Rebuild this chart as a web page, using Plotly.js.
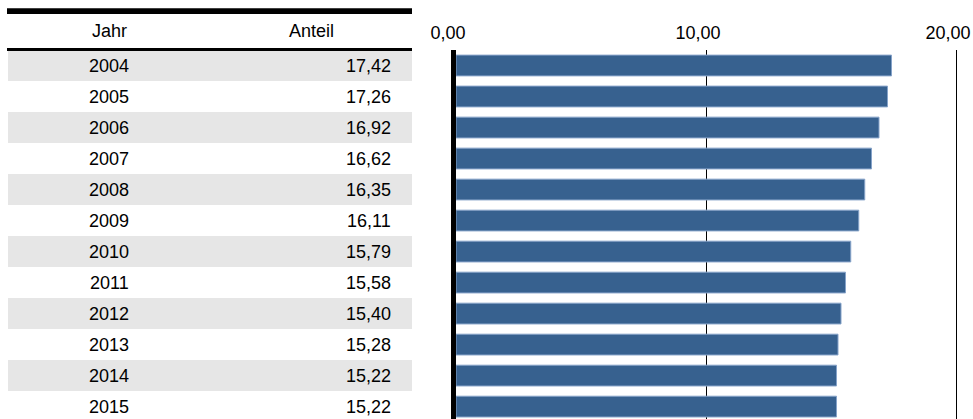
<!DOCTYPE html>
<html>
<head>
<meta charset="utf-8">
<script src="https://cdn.plot.ly/plotly-3.0.1.min.js"></script>
<style>
html,body{margin:0;padding:0;background:#fff;}
#chart{width:973px;height:419px;}
</style>
</head>
<body>
<div id="chart"></div>
<script>
// ---- data ----
const years = ['2004','2005','2006','2007','2008','2009','2010','2011','2012','2013','2014','2015'];
const shares = [17.42, 17.26, 16.92, 16.62, 16.35, 16.11, 15.79, 15.58, 15.40, 15.28, 15.22, 15.22];
const headerLabels = ['Jahr', 'Anteil'];
const xTickVals = [0, 10, 20];

// ---- layout helpers (pixel -> paper) ----
const W = 973, H = 419;
const px = v => v / W;
const py = v => 1 - v / H;
const FONT = 'Liberation Sans, Arial, sans-serif';

const fmt = v => v.toFixed(2).replace('.', ',');

const bar = {
  type: 'bar',
  orientation: 'h',
  x: shares,
  y: years,
  width: 0.67,
  marker: {color: '#37618f', line: {color: '#86a3c9', width: 1}},
  hoverinfo: 'skip'
};

const shapes = [];
// alternating row shading
years.forEach((yr, i) => {
  if (i % 2 === 0) {
    shapes.push({
      type: 'rect', layer: 'below', xref: 'paper', yref: 'y',
      x0: px(8), x1: px(412), y0: i - 0.5, y1: i + 0.5,
      fillcolor: '#e6e6e6', line: {width: 0}
    });
  }
});
// table rules
shapes.push({type: 'rect', xref: 'paper', yref: 'paper', x0: px(7), x1: px(412), y0: py(14), y1: py(8.3), fillcolor: '#000', line: {width: 0}});
shapes.push({type: 'rect', xref: 'paper', yref: 'paper', x0: px(7), x1: px(412), y0: py(51), y1: py(48), fillcolor: '#000', line: {width: 0}});

const annotations = [];
annotations.push({xref: 'paper', yref: 'paper', x: px(109), y: py(30.5), text: headerLabels[0], showarrow: false, xanchor: 'center', yanchor: 'middle', font: {family: FONT, size: 18, color: '#000'}});
annotations.push({xref: 'paper', yref: 'paper', x: px(311), y: py(30.5), text: headerLabels[1], showarrow: false, xanchor: 'center', yanchor: 'middle', font: {family: FONT, size: 18, color: '#000'}});
years.forEach((yr, i) => {
  annotations.push({xref: 'paper', yref: 'y', x: px(109), y: i, text: yr, showarrow: false, xanchor: 'center', yanchor: 'middle', font: {family: FONT, size: 18, color: '#000'}});
  annotations.push({xref: 'paper', yref: 'y', x: px(393), y: i, text: fmt(shares[i]), showarrow: false, xanchor: 'right', yanchor: 'middle', font: {family: FONT, size: 18, color: '#000'}});
});

const layout = {
  width: W, height: H,
  margin: {l: 0, r: 0, t: 0, b: 0, pad: 0},
  paper_bgcolor: '#fff', plot_bgcolor: '#fff',
  separators: ',.',
  showlegend: false,
  font: {family: FONT, size: 18, color: '#000'},
  xaxis: {
    domain: [px(456), px(960)],
    range: [0, 20.16],
    side: 'top',
    tickvals: xTickVals,
    tickformat: '.2f',
    ticks: '',
    showgrid: true, gridcolor: '#000', gridwidth: 1,
    zeroline: false,
    showline: false,
    ticklabelshift: -8,
    ticklabelstandoff: 6,
    tickfont: {family: FONT, size: 18, color: '#000'},
    fixedrange: true
  },
  yaxis: {
    domain: [0, py(50)],
    type: 'category',
    categoryorder: 'array', categoryarray: years,
    range: [11.4, -0.5],
    showticklabels: false,
    ticks: '',
    showgrid: false,
    zeroline: false,
    showline: true, linecolor: '#000', linewidth: 5,
    layer: 'above traces',
    fixedrange: true
  },
  shapes: shapes,
  annotations: annotations
};

Plotly.newPlot('chart', [bar], layout, {staticPlot: true, displayModeBar: false});
</script>
</body>
</html>
